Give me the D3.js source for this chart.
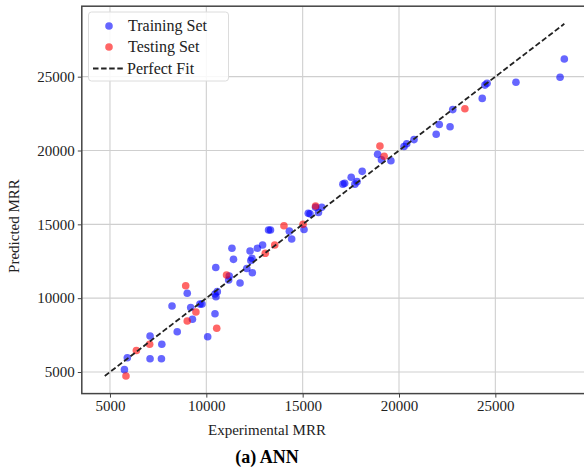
<!DOCTYPE html>
<html>
<head>
<meta charset="utf-8">
<script src="https://cdn.jsdelivr.net/npm/d3@7"></script>
<style>
  html, body { margin: 0; padding: 0; background: #fff; }
  svg { display: block; }
  text { font-family: "Liberation Serif", "Times New Roman", serif; }
</style>
</head>
<body>
<svg id="chart" width="584" height="469"></svg>
<script>
// Training set: [experimental, predicted]
const trainExperimental = [5750, 5900, 7080, 7080, 7670, 7690, 8220, 8490, 9010, 9190, 9280, 9670, 9775, 10070, 10450, 10490, 10450, 10500, 10570, 11190, 11160, 11330, 11410, 11750, 12100, 12270, 12310, 12370, 12390, 12650, 12920, 13230, 13330, 14310, 14430, 15070, 15290, 15380, 15670, 15820, 15990, 17090, 17180, 17520, 17710, 17820, 18090, 18890, 19090, 19580, 20260, 20400, 20780, 21930, 22090, 22650, 22790, 24320, 24460, 24570, 26070, 28360, 28580];
const trainPredicted    = [5160, 5970, 7440, 5900, 5900, 6880, 9470, 7730, 10330, 9370, 8570, 9600, 9600, 7390, 8950, 12080, 10280, 10100, 10440, 11500, 11230, 13380, 12630, 11030, 12010, 13190, 12550, 12700, 11720, 13380, 13600, 14620, 14620, 14540, 14010, 14650, 15750, 15710, 16150, 15800, 16150, 17720, 17780, 18190, 17720, 17890, 18590, 19740, 19370, 19310, 20270, 20460, 20740, 21100, 21760, 21610, 22770, 23530, 24430, 24550, 24620, 24960, 26200];

// Testing set: [experimental, predicted]
const testExperimental = [5830, 6370, 7060, 8930, 9010, 9460, 10540, 11050, 13060, 13550, 14030, 15020, 15670, 19010, 19230, 23420];
const testPredicted    = [4730, 6460, 6880, 10840, 8450, 9060, 7960, 11570, 13040, 13600, 14900, 15010, 16240, 20300, 19610, 22830];

const tickValues = [5000, 10000, 15000, 20000, 25000];
const legendLabels = ["Training Set", "Testing Set", "Perfect Fit"];
const xTitle = "Experimental MRR";
const yTitle = "Predicted MRR";
const caption = "(a) ANN";

const svg = d3.select("#chart");

// Perfect-fit line spans the full range of both axes' data
const all = trainExperimental.concat(trainPredicted, testExperimental, testPredicted);
const lo = d3.min(all), hi = d3.max(all);
const pad = (hi - lo) * 0.05;
const domain = [lo - pad, hi + pad];

const plot = { left: 81.8, right: 587.3, top: 6.2, bottom: 393.6 };
const x = d3.scaleLinear().domain(domain).range([plot.left, plot.right]);
const y = d3.scaleLinear().domain(domain).range([plot.bottom, plot.top]);

// Grid
const grid = svg.append("g");
grid.selectAll("line.gx").data(tickValues).join("line")
  .attr("x1", d => x(d)).attr("x2", d => x(d))
  .attr("y1", plot.top).attr("y2", plot.bottom)
  .attr("stroke", "#cfcfcf").attr("stroke-width", 1.1);
grid.selectAll("line.gy").data(tickValues).join("line")
  .attr("y1", d => y(d)).attr("y2", d => y(d))
  .attr("x1", plot.left).attr("x2", plot.right)
  .attr("stroke", "#cfcfcf").attr("stroke-width", 1.1);

// Points
const pts = svg.append("g");
pts.selectAll("circle.train").data(d3.range(trainExperimental.length)).join("circle")
  .attr("cx", i => x(trainExperimental[i]))
  .attr("cy", i => y(trainPredicted[i]))
  .attr("r", 3.8)
  .attr("fill", "blue").attr("fill-opacity", 0.6);
pts.selectAll("circle.test").data(d3.range(testExperimental.length)).join("circle")
  .attr("cx", i => x(testExperimental[i]))
  .attr("cy", i => y(testPredicted[i]))
  .attr("r", 3.8)
  .attr("fill", "red").attr("fill-opacity", 0.6);

// Perfect fit
svg.append("line")
  .attr("x1", x(lo)).attr("y1", y(lo))
  .attr("x2", x(hi)).attr("y2", y(hi))
  .attr("stroke", "#222").attr("stroke-width", 1.8)
  .attr("stroke-dasharray", "5.5,2.6");

// Axes
const xAxis = d3.axisBottom(x).tickValues(tickValues).tickSize(4).tickPadding(3).tickFormat(d3.format("d"));
const yAxis = d3.axisLeft(y).tickValues(tickValues).tickSize(4).tickPadding(3).tickFormat(d3.format("d"));

const gx = svg.append("g").attr("transform", `translate(0,${plot.bottom})`).call(xAxis);
const gy = svg.append("g").attr("transform", `translate(${plot.left},0)`).call(yAxis);
[gx, gy].forEach(g => {
  g.select(".domain").remove();
  g.selectAll(".tick line").attr("stroke", "#444").attr("stroke-width", 1);
  g.selectAll(".tick text").attr("fill", "#222").style("font-size", "15px")
    .style("font-family", '"Liberation Serif", serif');
});

// Frame
svg.append("rect")
  .attr("x", plot.left).attr("y", plot.top)
  .attr("width", plot.right - plot.left).attr("height", plot.bottom - plot.top)
  .attr("fill", "none").attr("stroke", "#444").attr("stroke-width", 1.5);

// Titles
svg.append("text").attr("x", 267).attr("y", 435).attr("text-anchor", "middle")
  .style("font-size", "15px").attr("fill", "#222").text(xTitle);
svg.append("text").attr("transform", "translate(19,226) rotate(-90)").attr("text-anchor", "middle")
  .style("font-size", "15px").attr("fill", "#222").text(yTitle);
svg.append("text").attr("x", 267).attr("y", 463).attr("text-anchor", "middle")
  .style("font-size", "18px").style("font-weight", "bold").attr("fill", "#000").text(caption);

// Legend
const lg = svg.append("g");
lg.append("rect").attr("x", 88.5).attr("y", 12).attr("width", 140).attr("height", 69)
  .attr("rx", 3).attr("fill", "#fff").attr("fill-opacity", 0.85)
  .attr("stroke", "#dcdcdc").attr("stroke-width", 1);
lg.append("circle").attr("cx", 109).attr("cy", 26).attr("r", 3.8).attr("fill", "blue").attr("fill-opacity", 0.6);
lg.append("circle").attr("cx", 109).attr("cy", 47).attr("r", 3.8).attr("fill", "red").attr("fill-opacity", 0.6);
lg.append("line").attr("x1", 93).attr("x2", 124).attr("y1", 68.5).attr("y2", 68.5)
  .attr("stroke", "#222").attr("stroke-width", 1.8).attr("stroke-dasharray", "5.5,2.6");
const ly = [31, 52, 73.5];
lg.selectAll("text.lab").data(legendLabels).join("text")
  .attr("x", (d, i) => i === 2 ? 127 : 128).attr("y", (d, i) => ly[i])
  .style("font-size", "16px").attr("fill", "#222").text(d => d);
</script>
</body>
</html>
